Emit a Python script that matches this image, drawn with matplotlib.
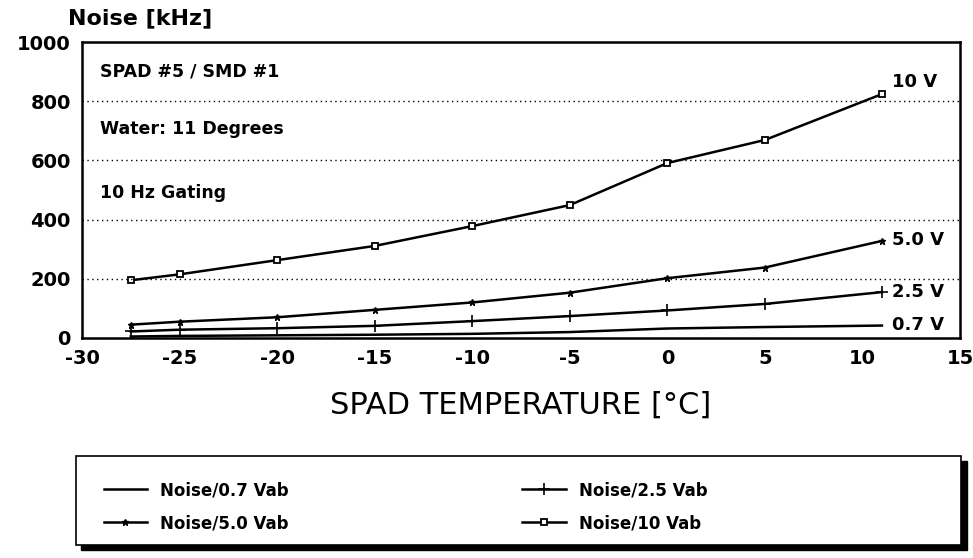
import numpy as np
import matplotlib.pyplot as plt
from matplotlib.patches import Rectangle

plt.rcParams['font.family'] = ['DejaVu Sans']
plt.rcParams['axes.unicode_minus'] = False

# temperature points [°C]
temp = [-27.5, -25, -20, -15, -10, -5, 0, 5, 11]

# noise [kHz]
noise_07 = [5, 7, 9, 11, 14, 20, 32, 37, 42]
noise_25 = [22, 28, 33, 41, 57, 74, 93, 115, 155]
noise_50 = [45, 55, 70, 95, 120, 153, 202, 238, 328]
noise_10 = [195, 215, 263, 311, 378, 449, 591, 669, 824]

labels = ["Noise/0.7 Vab", "Noise/2.5 Vab", "Noise/5.0 Vab", "Noise/10 Vab"]
end_labels = ["0.7 V", "2.5 V", "5.0 V", "10 V"]
end_y = [45, 155, 330, 865]

notes = ["SPAD #5 / SMD #1", "Water: 11 Degrees", "10 Hz Gating"]
notes_y = [900, 705, 490]

fig = plt.figure(figsize=(9.73, 5.58), dpi=100)
ax = fig.add_axes([0.0843, 0.3943, 0.9023, 0.5304])

l1, = ax.plot(temp, noise_07, '-', color='black', lw=1.8)
l2, = ax.plot(temp, noise_25, '-', color='black', lw=1.8, marker='+', ms=8, mew=1.2)
l3, = ax.plot(temp, noise_50, '-', color='black', lw=1.8, marker='*', ms=5)
l4, = ax.plot(temp, noise_10, '-', color='black', lw=1.8, marker='s', ms=5,
              mfc='white', mew=1.3)

ax.set_xlim(-30, 15)
ax.set_ylim(0, 1000)
ax.set_xticks(np.arange(-30, 16, 5))
ax.set_yticks(np.arange(0, 1001, 200))
ax.tick_params(length=0, labelsize=14, pad=8)
for t in ax.get_xticklabels() + ax.get_yticklabels():
    t.set_fontweight('bold')

for y in [200, 400, 600, 800]:
    ax.axhline(y, color='black', lw=1, ls=(0, (1, 2.5)))

for sp in ax.spines.values():
    sp.set_linewidth(1.8)

for txt, y in zip(end_labels, end_y):
    ax.text(11.5, y, txt, fontsize=13, fontweight='bold', va='center', ha='left')

for txt, y in zip(notes, notes_y):
    ax.text(-29.1, y, txt, fontsize=12.5, fontweight='bold', va='center', ha='left')

ax.set_xlabel("SPAD TEMPERATURE [°C]", fontsize=22, labelpad=16)
fig.text(0.07, 0.967, "Noise [kHz]", fontsize=16, fontweight='bold', va='center')

# legend frame with heavy shadow
fig.patches.append(Rectangle((0.083, 0.014), 0.911, 0.16, transform=fig.transFigure,
                             facecolor='black', edgecolor='black', zorder=0))
fig.patches.append(Rectangle((0.078, 0.024), 0.910, 0.159, transform=fig.transFigure,
                             facecolor='white', edgecolor='black', lw=1.2, zorder=1))

leg = fig.legend([l1, l3, l2, l4], [labels[0], labels[2], labels[1], labels[3]],
                 ncol=2, loc='center left', bbox_to_anchor=(0.098, 0.092), frameon=False,
                 prop={'weight': 'bold', 'size': 12}, handlelength=2.6,
                 columnspacing=14, labelspacing=0.9, borderpad=0)

plt.savefig("out.png", dpi=100)
